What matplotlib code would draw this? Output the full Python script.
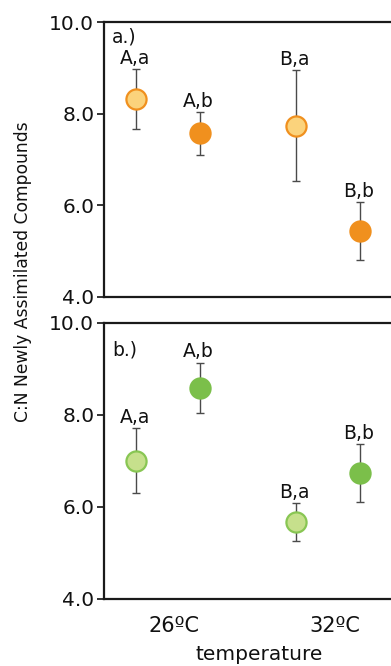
import matplotlib
matplotlib.use("Agg")
import matplotlib.pyplot as plt

### data ###################################################################

temps = ["26ºC", "32ºC"]
groups = ["A,a", "A,b", "B,a", "B,b"]

# panel a (orange)
a_mean = [8.31, 7.57, 7.74, 5.44]
a_hi = [8.97, 8.03, 8.95, 6.07]
a_lo = [7.66, 7.09, 6.54, 4.80]

# panel b (green)
b_mean = [7.01, 8.59, 5.67, 6.74]
b_hi = [7.71, 9.14, 6.08, 7.36]
b_lo = [6.30, 8.04, 5.26, 6.10]

### layout ##################################################################

xpos = [0, 1, 2.5, 3.5]
tickpos = [0.6, 3.1]

fig = plt.figure(figsize=(3.91, 6.66), dpi=100)
W, H = 391, 666
left = 104 / W
width = (414 - 104) / W
axA = fig.add_axes([left, 1 - 297 / H, width, (297 - 22) / H])
axB = fig.add_axes([left, 1 - 599 / H, width, (599 - 323) / H])

panels = [
    (axA, a_mean, a_hi, a_lo, "a.)",
     ["#FBD37C", "#F0901E", "#FBD37C", "#F0901E"],
     ["#F0901E", "#F0901E", "#F0901E", "#F0901E"]),
    (axB, b_mean, b_hi, b_lo, "b.)",
     ["#C6E08C", "#7BBF4A", "#C6E08C", "#7BBF4A"],
     ["#88C653", "#7BBF4A", "#88C653", "#7BBF4A"]),
]

for ax, mean, hi, lo, tag, faces, edges in panels:
    for i in range(len(mean)):
        err = [[mean[i] - lo[i]], [hi[i] - mean[i]]]
        ax.errorbar(xpos[i], mean[i], yerr=err, fmt="none", ecolor="#4a4a4a",
                    elinewidth=1.0, capsize=3.2, capthick=1.0, zorder=2)
        ax.plot(xpos[i], mean[i], "o", ms=14.5, mfc=faces[i], mec=edges[i],
                mew=1.6, zorder=3)
        ax.annotate(groups[i], (xpos[i], hi[i]), xytext=(-1, 4),
                    textcoords="offset points", ha="center", va="baseline",
                    fontsize=13.5, color="#111111")
    ax.set_xlim(-0.5, 4.34)
    ax.set_ylim(4.0, 10.0)
    ax.set_yticks([4.0, 6.0, 8.0, 10.0])
    ax.set_yticklabels(["4.0", "6.0", "8.0", "10.0"])
    ax.tick_params(axis="y", labelsize=14.5, length=5, width=1.2,
                   pad=2, colors="#111111")
    ax.spines["right"].set_visible(False)
    for s in ["left", "top", "bottom"]:
        ax.spines[s].set_linewidth(1.6)
        ax.spines[s].set_color("#1a1a1a")
    ax.text(0.025, 0.98 if tag == "a.)" else 0.935, tag, transform=ax.transAxes,
            fontsize=13.5, va="top", ha="left", color="#111111")

axA.set_xticks([])
axB.set_xticks(tickpos)
axB.set_xticklabels(temps)
axB.tick_params(axis="x", length=0, labelsize=15, pad=12, colors="#111111")
axB.set_xlabel("temperature", fontsize=14.5, labelpad=7, color="#111111")

fig.text(23 / W, 1 - 272 / H, "C:N Newly Assimilated Compounds", rotation=90,
         ha="center", va="center", fontsize=12.3, color="#111111")

fig.savefig("out.png", dpi=100)
